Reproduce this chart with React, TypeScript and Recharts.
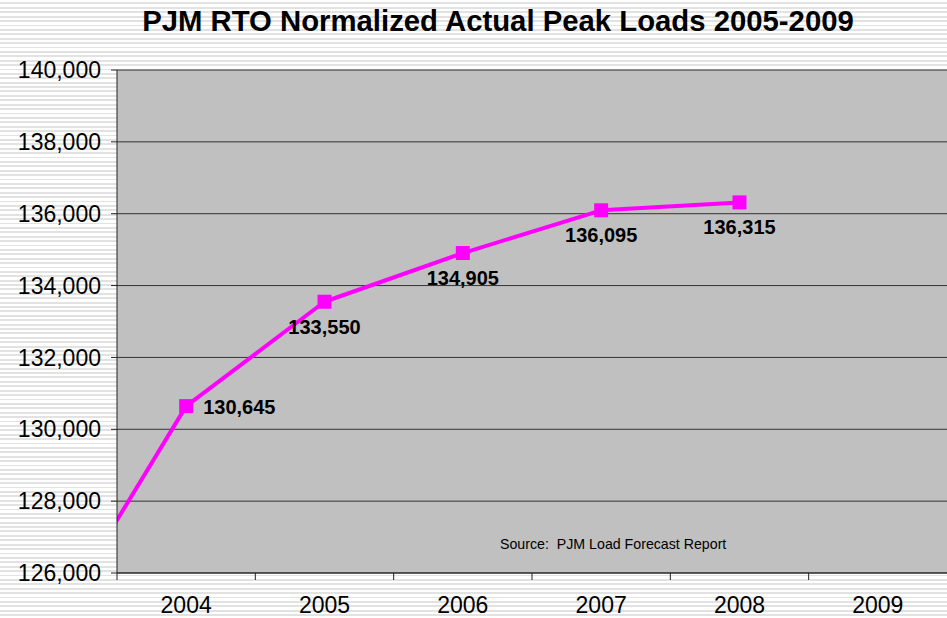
import React from 'react';
import {
  LineChart,
  Line,
  XAxis,
  YAxis,
  CartesianGrid,
  LabelList,
} from 'recharts';

// years on the category axis (2003 is only there so the line enters from the left edge)
const years = [2003, 2004, 2005, 2006, 2007, 2008];
const peakLoads = [124300, 130645, 133550, 134905, 136095, 136315];
const xTicks = [2004, 2005, 2006, 2007, 2008, 2009];
const yTicks = [126000, 128000, 130000, 132000, 134000, 136000, 138000, 140000];

// where each data label sits relative to its marker
const labelSpots = ['none', 'right', 'below', 'below', 'below', 'below'];

const data = years.map((year, i) => ({ year, load: peakLoads[i] }));

const W = 947;
const H = 618;
const LEFT = 117;
const TOP = 70;
const BOTTOM = 45;
const AXIS_Y = H - BOTTOM;
const HALF_STEP = (W - LEFT) / 6 / 2;

const FONT = '"Liberation Sans", Arial, sans-serif';

// tick marks sit between the years, labels under the year
const YearTick = ({ x, y, payload }: any) => (
  <g>
    <line x1={x - HALF_STEP} x2={x - HALF_STEP} y1={AXIS_Y} y2={AXIS_Y + 7} stroke="#222" strokeWidth={1} />
    <text x={x} y={y + 32} textAnchor="middle" fontSize={23} fontFamily={FONT} fill="#000">
      {payload.value}
    </text>
  </g>
);

const PointLabel = (props: any) => {
  const { x, y, value, index } = props;
  const spot = labelSpots[index];
  if (spot === 'none') return null;
  const text = value.toLocaleString('en-US');
  if (spot === 'right') {
    return (
      <text x={x + 17} y={y + 8} fontSize={20} fontWeight="bold" fontFamily={FONT} fill="#000">
        {text}
      </text>
    );
  }
  return (
    <text x={x} y={y + 32} textAnchor="middle" fontSize={20} fontWeight="bold" fontFamily={FONT} fill="#000">
      {text}
    </text>
  );
};

const SquareDot = ({ cx, cy }: any) => (
  <rect x={cx - 7} y={cy - 7} width={14} height={14} fill="#ff00ff" />
);

export default function App() {
  return (
    <div
      style={{
        position: 'absolute',
        top: 0,
        left: 0,
        width: W,
        height: H,
        background: 'repeating-linear-gradient(to bottom, #ffffff 0px, #ffffff 2.5px, #e2e2e2 2.5px, #e2e2e2 4.4px)',
      }}
    >
      <LineChart
        width={W}
        height={H}
        data={data}
        margin={{ top: TOP, right: 0, bottom: 0, left: 0 }}
      >
        <text x={498} y={31} textAnchor="middle" fontSize={29.3} fontWeight="bold" fontFamily={FONT} fill="#000">
          PJM RTO Normalized Actual Peak Loads 2005-2009
        </text>
        <CartesianGrid vertical={false} fill="#c0c0c0" stroke="#333" />
        <XAxis
          dataKey="year"
          type="number"
          domain={[2003.5, 2009.5]}
          ticks={xTicks}
          allowDataOverflow
          tickLine={false}
          height={BOTTOM}
          stroke="#222"
          tick={<YearTick />}
          interval={0}
        />
        <YAxis
          domain={[126000, 140000]}
          ticks={yTicks}
          allowDataOverflow
          width={LEFT}
          stroke="#222"
          tickSize={6}
          tickMargin={10}
          tickFormatter={(v: number) => v.toLocaleString('en-US')}
          tick={{ fontSize: 23, fill: '#000', fontFamily: FONT }}
          interval={0}
        />
        <Line
          dataKey="load"
          type="linear"
          stroke="#ff00ff"
          strokeWidth={4}
          strokeLinejoin="round"
          dot={<SquareDot />}
          activeDot={false}
          isAnimationActive={false}
        >
          <LabelList dataKey="load" content={<PointLabel />} />
        </Line>
        <text x={500} y={549} fontSize={14.2} fontFamily={FONT} fill="#000" style={{ whiteSpace: 'pre' }}>
          {'Source:  PJM Load Forecast Report'}
        </text>
      </LineChart>
    </div>
  );
}
